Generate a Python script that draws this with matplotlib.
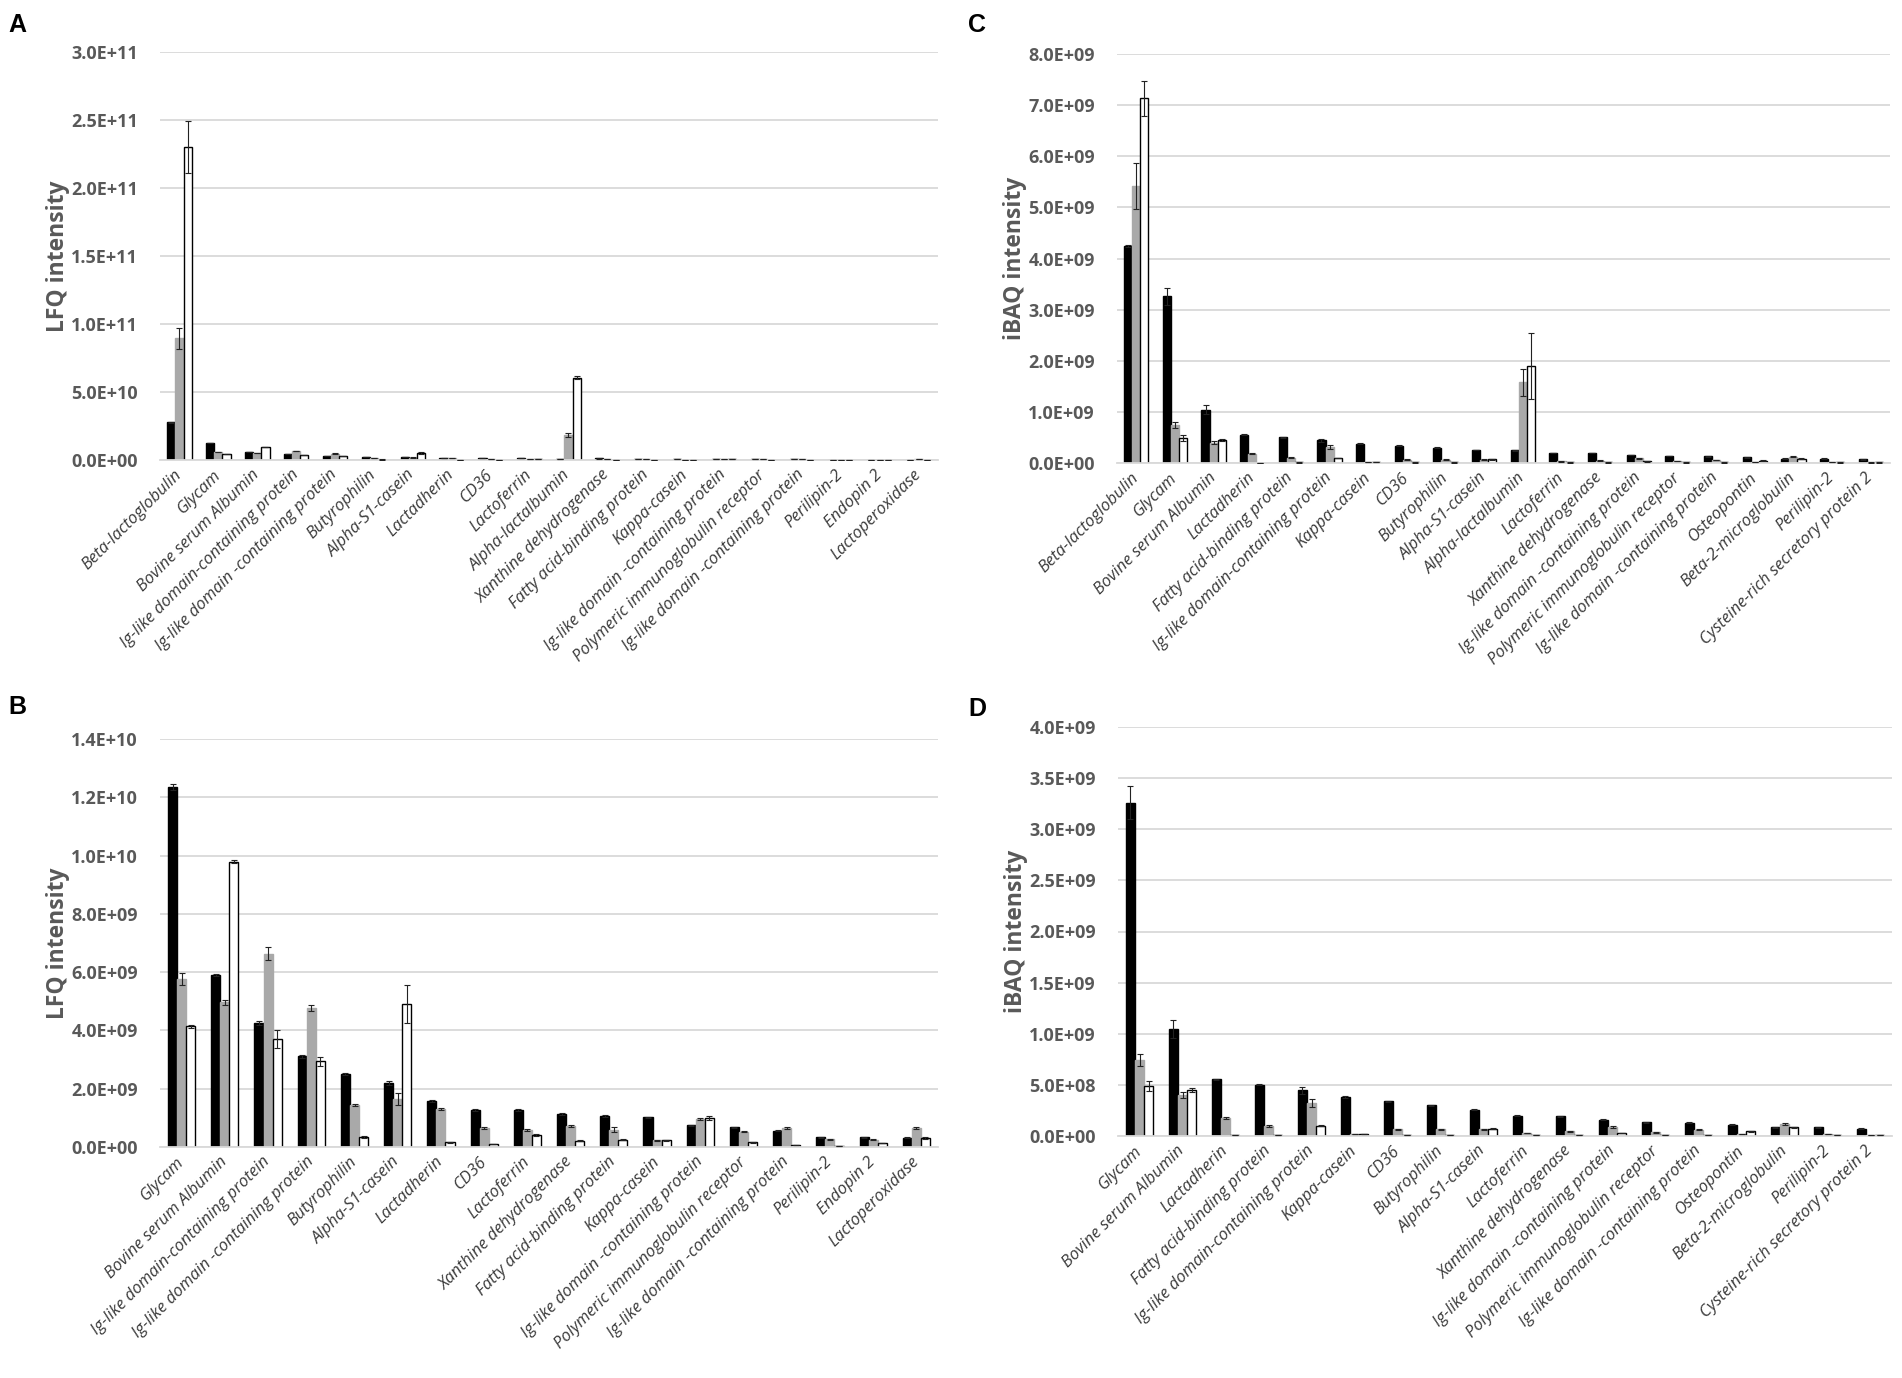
import numpy as np
import matplotlib
matplotlib.use("Agg")
import matplotlib.pyplot as plt
from matplotlib.ticker import FuncFormatter, MultipleLocator

plt.rcParams['font.family'] = ['Open Sans', 'DejaVu Sans']

# LFQ data (panel A order), values in units of 1e9
lfq_names = ["Beta-lactoglobulin", "Glycam", "Bovine serum Albumin",
             "Ig-like domain-containing protein", "Ig-like domain -containing protein",
             "Butyrophilin", "Alpha-S1-casein", "Lactadherin", "CD36", "Lactoferrin",
             "Alpha-lactalbumin", "Xanthine dehydrogenase", "Fatty acid-binding protein",
             "Kappa-casein", "Ig-like domain -containing protein",
             "Polymeric immunoglobulin receptor", "Ig-like domain -containing protein",
             "Perilipin-2", "Endopin 2", "Lactoperoxidase"]
lfq_black = [27.7, 12.34, 5.89, 4.25, 3.11, 2.50, 2.19, 1.59, 1.26, 1.26,
             1.0, 1.13, 1.07, 1.02, 0.75, 0.67, 0.56, 0.33, 0.33, 0.32]
lfq_grey = [89.4, 5.77, 4.96, 6.63, 4.77, 1.45, 1.65, 1.31, 0.65, 0.59,
            18.4, 0.73, 0.60, 0.23, 0.96, 0.53, 0.65, 0.27, 0.25, 0.65]
lfq_white = [230.0, 4.14, 9.79, 3.70, 2.94, 0.34, 4.91, 0.16, 0.11, 0.41,
             60.5, 0.22, 0.25, 0.23, 0.99, 0.16, 0.07, 0.03, 0.14, 0.31]
lfq_black_err = [0.5, 0.10, 0.03, 0.08, 0.05, 0.03, 0.06, 0.03, 0.03, 0.03,
                 0.1, 0.03, 0.03, 0.02, 0.02, 0.02, 0.02, 0.02, 0.02, 0.02]
lfq_grey_err = [8.0, 0.20, 0.10, 0.22, 0.11, 0.04, 0.20, 0.03, 0.04, 0.03,
                1.5, 0.03, 0.08, 0.02, 0.05, 0.03, 0.03, 0.02, 0.02, 0.03]
lfq_white_err = [19.0, 0.05, 0.06, 0.32, 0.15, 0.03, 0.65, 0.02, 0.01, 0.03,
                 1.0, 0.02, 0.02, 0.02, 0.06, 0.02, 0.01, 0.01, 0.01, 0.02]

# iBAQ data (panel C order), values in units of 1e9
ibaq_names = ["Beta-lactoglobulin", "Glycam", "Bovine serum Albumin", "Lactadherin",
              "Fatty acid-binding protein", "Ig-like domain-containing protein",
              "Kappa-casein", "CD36", "Butyrophilin", "Alpha-S1-casein",
              "Alpha-lactalbumin", "Lactoferrin", "Xanthine dehydrogenase",
              "Ig-like domain -containing protein", "Polymeric immunoglobulin receptor",
              "Ig-like domain -containing protein", "Osteopontin",
              "Beta-2-microglobulin", "Perilipin-2", "Cysteine-rich secretory protein 2"]
ibaq_black = [4.25, 3.26, 1.046, 0.555, 0.50, 0.445, 0.38, 0.34, 0.30, 0.255,
              0.25, 0.20, 0.195, 0.157, 0.135, 0.13, 0.11, 0.085, 0.085, 0.07]
ibaq_grey = [5.42, 0.745, 0.40, 0.18, 0.10, 0.32, 0.02, 0.065, 0.065, 0.065,
             1.58, 0.03, 0.045, 0.09, 0.035, 0.06, 0.02, 0.12, 0.02, 0.01]
ibaq_white = [7.13, 0.49, 0.45, 0.008, 0.01, 0.10, 0.02, 0.01, 0.01, 0.07,
              1.90, 0.01, 0.01, 0.03, 0.01, 0.01, 0.045, 0.085, 0.01, 0.01]
ibaq_black_err = [0.02, 0.16, 0.09, 0.005, 0.005, 0.03, 0.01, 0.005, 0.005, 0.005,
                  0.01, 0.005, 0.005, 0.005, 0.005, 0.005, 0.005, 0.005, 0.005, 0.005]
ibaq_grey_err = [0.45, 0.06, 0.03, 0.01, 0.01, 0.04, 0.003, 0.005, 0.005, 0.005,
                 0.26, 0.003, 0.004, 0.01, 0.004, 0.005, 0.003, 0.008, 0.003, 0.002]
ibaq_white_err = [0.35, 0.05, 0.02, 0.001, 0.002, 0.005, 0.003, 0.002, 0.002, 0.005,
                  0.65, 0.002, 0.002, 0.003, 0.002, 0.002, 0.004, 0.006, 0.002, 0.002]

# panels B and D leave out these two proteins
dropped = ["Beta-lactoglobulin", "Alpha-lactalbumin"]

W, H = 1902, 1378
fig = plt.figure(figsize=(W / 100, H / 100), dpi=100)


def subset(names, *cols):
    keep = [i for i, n in enumerate(names) if n not in dropped]
    out = [[names[i] for i in keep]]
    for c in cols:
        out.append([c[i] for i in keep])
    return out


def panel(box, letter, letter_xy, ylabel, names, blk, gry, wht, eb, eg, ew, scale, ymax, step):
    l, t, r, b = box
    ax = fig.add_axes([l / W, 1 - b / H, (r - l) / W, (b - t) / H])
    x = np.arange(len(names))
    w = 0.21
    sets = [(blk, eb, 'black', 'black'), (gry, eg, '#a9a9a9', '#a9a9a9'), (wht, ew, 'white', 'black')]
    for k, (v, e, fc, ec) in enumerate(sets):
        v = np.array(v) * scale
        e = np.array(e) * scale
        xs = x + (k - 1) * w
        ax.bar(xs, v, width=w, color=fc, edgecolor=ec, linewidth=1.0, zorder=2)
        ax.errorbar(xs, v, yerr=e, fmt='none', ecolor='#222222', elinewidth=0.8,
                    capsize=2.2, capthick=0.8, zorder=3)
    ax.set_xlim(-0.5, len(names) - 0.5)
    ax.set_ylim(0, ymax)
    ax.yaxis.set_major_locator(MultipleLocator(step))
    ax.yaxis.set_major_formatter(FuncFormatter(lambda v, p: f"{v:.1E}"))
    ax.yaxis.grid(True, color='#d9d9d9', linewidth=1.3)
    ax.set_axisbelow(True)
    for s in ['left', 'right', 'top']:
        ax.spines[s].set_visible(False)
    ax.spines['bottom'].set_color('#d9d9d9')
    ax.spines['bottom'].set_linewidth(1.3)
    ax.tick_params(axis='y', length=0, pad=16, labelsize=13, labelcolor='#595959')
    for lab in ax.get_yticklabels():
        lab.set_fontweight('bold')
    ax.set_xticks(x)
    ax.set_xticklabels(names, rotation=45, ha='right', va='center', rotation_mode='anchor',
                       fontsize=12, style='italic', color='#3a3a3a')
    ax.tick_params(axis='x', length=0, pad=9)
    fig.text((l - 102) / W, 1 - (t + b) / 2 / H, ylabel, rotation=90, ha='center', va='center',
             fontsize=16.5, fontweight='bold', color='#595959')
    fig.text(letter_xy[0] / W, 1 - letter_xy[1] / H, letter, ha='left', va='top',
             fontsize=18, fontweight='bold', family=['Liberation Sans', 'DejaVu Sans'])
    return ax


panel((160, 52, 938, 460), "A", (8, 13), "LFQ intensity", lfq_names,
      lfq_black, lfq_grey, lfq_white, lfq_black_err, lfq_grey_err, lfq_white_err,
      1e9, 3.0e11, 5e10)

b_names, b_blk, b_gry, b_wht, b_eb, b_eg, b_ew = subset(
    lfq_names, lfq_black, lfq_grey, lfq_white, lfq_black_err, lfq_grey_err, lfq_white_err)
panel((160, 739, 938, 1147), "B", (8, 695), "LFQ intensity", b_names,
      b_blk, b_gry, b_wht, b_eb, b_eg, b_ew, 1e9, 1.4e10, 2e9)

panel((1117, 54, 1890, 463), "C", (968, 13), "iBAQ intensity", ibaq_names,
      ibaq_black, ibaq_grey, ibaq_white, ibaq_black_err, ibaq_grey_err, ibaq_white_err,
      1e9, 8.0e9, 1e9)

d_names, d_blk, d_gry, d_wht, d_eb, d_eg, d_ew = subset(
    ibaq_names, ibaq_black, ibaq_grey, ibaq_white, ibaq_black_err, ibaq_grey_err, ibaq_white_err)
panel((1118, 727, 1892, 1136), "D", (968, 697), "iBAQ intensity", d_names,
      d_blk, d_gry, d_wht, d_eb, d_eg, d_ew, 1e9, 4.0e9, 5e8)

fig.savefig("out.png", dpi=100, facecolor='white')
